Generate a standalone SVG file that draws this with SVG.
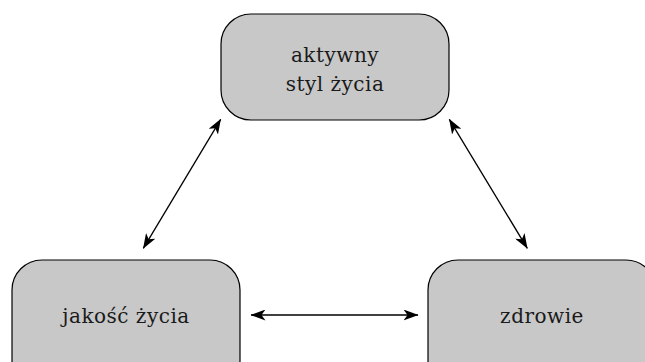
<svg xmlns="http://www.w3.org/2000/svg" width="645" height="362" viewBox="0 0 645 362">
<style>
.box{fill:#c8c8c8;stroke:#000;stroke-width:1.2}
.lbl{font-family:"DejaVu Serif","Liberation Serif",serif;font-size:20px;letter-spacing:0.5px;fill:#1a1a1a;text-anchor:middle}
.conn{stroke:#000;stroke-width:1.3;fill:none;marker-start:url(#ah);marker-end:url(#ah)}
</style>
<defs>
<marker id="ah" viewBox="0 0 15 11" refX="14.5" refY="5.5" markerWidth="15" markerHeight="11" markerUnits="userSpaceOnUse" orient="auto-start-reverse">
<path d="M0,0 L15,5.5 L0,11 L4,5.5 Z" fill="#000"/>
</marker>
</defs>
<rect width="645" height="362" fill="#fff"/>
<g id="connectors">
<line class="conn" x1="143.3" y1="248.3" x2="220.7" y2="119.3"/>
<line class="conn" x1="449.3" y1="119.3" x2="527.3" y2="248.3"/>
<line class="conn" x1="251" y1="315" x2="418" y2="315"/>
</g>
<g id="aktywny">
<rect class="box" x="221" y="14" width="228" height="106" rx="30" ry="30"/>
<text class="lbl" x="335" y="62">aktywny</text>
<text class="lbl" x="335" y="91">styl życia</text>
</g>
<g id="jakosc">
<rect class="box" x="12" y="260" width="228" height="130" rx="30" ry="30"/>
<text class="lbl" x="126" y="323">jakość życia</text>
</g>
<g id="zdrowie">
<rect class="box" x="428" y="260" width="228" height="130" rx="30" ry="30"/>
<text class="lbl" x="542" y="323">zdrowie</text>
</g>
</svg>
